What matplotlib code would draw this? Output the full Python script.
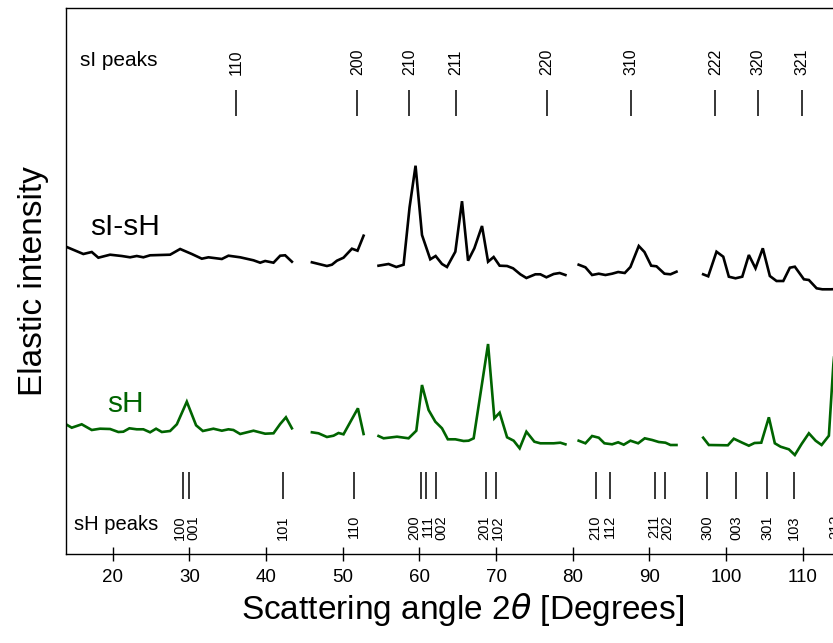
import numpy as np
import matplotlib.pyplot as plt

plt.rcParams['font.family'] = ['Liberation Sans', 'DejaVu Sans']

# --- DATA ---
# sI-sH curve, one list per measured segment (x in degrees, y in arbitrary intensity)
si_x = [
    [13.9, 16.16, 17.26, 18.12, 19.65, 21.17, 22.26, 23.13, 23.99, 24.87, 27.48, 28.79,
     30.31, 31.62, 32.48, 34.23, 35.09, 36.62, 38.36, 39.23, 39.88, 40.97, 41.84, 42.49, 43.37],
    [45.98, 47.94, 48.59, 49.24, 50.10, 51.20, 51.93, 52.72],
    [54.67, 55.98, 56.99, 57.94, 58.72, 59.50, 60.34, 61.42, 62.12, 62.95, 63.60, 64.69,
     65.56, 66.35, 67.17, 68.17, 68.96, 69.69, 70.47, 71.44, 72.22, 73.17, 73.96, 75.13,
     75.78, 76.57, 77.52, 78.30, 79.05],
    [80.78, 81.66, 82.53, 83.40, 84.27, 85.14, 85.93, 86.79, 87.53, 88.62, 89.36, 90.24,
     90.93, 91.97, 92.76, 93.54],
    [97.02, 97.68, 98.76, 99.64, 100.37, 101.24, 102.12, 102.98, 103.85, 104.80, 105.72,
     106.59, 107.47, 108.33, 108.98, 110.16, 110.81, 111.82, 112.56, 113.64, 114.69],
]
si_y = [
    [307.3, 300, 302, 296.3, 299.3, 298, 296.7, 298, 296.7, 298.7, 299.3, 305,
     300, 295.3, 296.7, 295, 298.3, 296.7, 293.7, 291.3, 293, 291.3, 298.3, 298.7, 292.3],
    [291.7, 288, 289.3, 293.3, 296.3, 305.3, 303.3, 318.3],
    [288.3, 290, 287, 289.3, 346.7, 388.3, 319, 294.7, 298, 290, 287, 302.3,
     352.8, 293.3, 305.7, 328, 292.3, 297, 288.3, 288, 285.7, 279.7, 276, 279.7,
     279.7, 276.7, 280, 281, 279],
    [289.3, 286.7, 279, 280.3, 279, 280.3, 282, 281, 287, 308, 302, 288.3,
     287.7, 280.3, 279.7, 282.3],
    [279.7, 277.7, 302.3, 297.3, 277.3, 275.7, 277.3, 299, 285.7, 305.7, 278,
     273, 273, 286.3, 287.3, 274.7, 274, 265.7, 264.7, 264.7, 265],
]

# sH curve
sh_x = [
    [13.9, 14.65, 15.95, 17.26, 18.34, 19.65, 20.73, 21.38, 22.17, 23.13, 23.99, 24.87,
     25.65, 26.40, 27.48, 28.36, 29.66, 30.87, 31.75, 33.13, 34.23, 35.09, 35.74, 36.62,
     38.36, 39.88, 40.97, 41.84, 42.59, 43.37],
    [45.98, 46.84, 47.94, 48.80, 49.45, 50.10, 51.98, 52.72],
    [54.67, 55.33, 57.08, 58.59, 59.60, 60.34, 61.20, 62.08, 62.95, 63.71, 64.69, 65.77,
     66.42, 67.08, 68.96, 69.78, 70.47, 71.44, 72.30, 73.08, 73.96, 75.00, 75.78, 77.52,
     78.39, 79.05],
    [80.78, 81.66, 82.53, 83.40, 84.14, 85.14, 85.93, 86.66, 87.53, 88.54, 89.40, 90.37,
     91.23, 92.10, 92.76, 93.54],
    [97.02, 97.76, 100.24, 101.02, 102.12, 102.98, 103.72, 104.60, 105.59, 106.37, 107.12,
     108.20, 108.98, 109.86, 110.81, 111.69, 112.47, 113.42, 114.0, 114.6],
]
sh_y = [
    [129.7, 126.3, 129.7, 124, 125.3, 125, 122, 122.3, 125.7, 124.7, 124.7, 121.7,
     125.3, 122, 123, 129.7, 152.3, 128.7, 123, 125.3, 123.3, 124.7, 124, 120,
     123.3, 120.3, 120.7, 130, 136.7, 125.7],
    [121.7, 120.7, 117, 118.3, 121, 119.7, 145.7, 120],
    [118, 115.7, 117.3, 115.7, 123.3, 169, 144, 132.3, 125.7, 114.7, 114.7, 113,
     113.3, 115.7, 210, 135.7, 141.3, 116.7, 113.3, 105.7, 122.3, 112.3, 110.7, 110.7,
     111.3, 109.7],
    [113.3, 110.7, 118, 116.3, 110.7, 109.7, 111.7, 109.3, 113.3, 110.7, 115.7, 114,
     112, 111.3, 109, 109],
    [116.3, 109, 108.7, 115.3, 111.3, 108.3, 111, 111.3, 136.7, 110.7, 107.3,
     104.7, 99, 110, 120.7, 113.3, 109, 118.3, 189, 240],
]

# reflection positions
si_peaks = [36.1, 51.9, 58.7, 64.8, 76.6, 87.6, 98.6, 104.2, 109.9]
si_labels = ['110', '200', '210', '211', '220', '310', '222', '320', '321']
sh_peaks = [29.2, 30.0, 42.2, 51.5, 60.25, 60.8, 62.2, 68.7, 70.0, 83.0, 84.9,
            90.8, 92.1, 97.55, 101.3, 105.4, 108.9, 114.2]
sh_labels = ['100', '001', '101', '110', '200', '111', '002', '201', '102', '210', '112',
             '211', '202', '300', '003', '301', '103', '212']

GREEN = '#006400'


def spread(xs, min_sep=1.75):
    # push close labels apart, keeping each cluster centred on its lines
    groups = [[xs[0]]]
    for x in xs[1:]:
        if x - groups[-1][-1] < min_sep:
            groups[-1].append(x)
        else:
            groups.append([x])
    out = []
    for g in groups:
        if len(g) == 1:
            out.append(g[0])
        else:
            c = np.mean(g)
            n = len(g)
            out += [c + (i - (n - 1) / 2) * min_sep for i in range(n)]
    return out


fig = plt.figure(figsize=(8.33, 6.43), dpi=100)
ax = fig.add_axes([66 / 833, 89 / 643, 794 / 833, 546 / 643])

for xs, ys in zip(si_x, si_y):
    ax.plot(xs, ys, color='black', lw=1.9, solid_joinstyle='miter')
for xs, ys in zip(sh_x, sh_y):
    ax.plot(xs, ys, color=GREEN, lw=1.9, solid_joinstyle='miter')

# sI peak markers (top)
ax.vlines(si_peaks, 438, 464, color='black', lw=1.1)
for x, lab in zip(si_peaks, si_labels):
    ax.text(x, 479, lab, rotation=90, ha='center', va='bottom', fontsize=11.5)
ax.text(15.7, 493, 'sI peaks', ha='left', va='center', fontsize=15)

# sH peak markers (bottom)
ax.vlines(sh_peaks, 55, 82, color='black', lw=1.1)
for x, lab in zip(spread(sh_peaks), sh_labels):
    ax.text(x, 39, lab, rotation=90, ha='center', va='top', fontsize=10.5)
ax.text(14.9, 29, 'sH peaks', ha='left', va='center', fontsize=14.5)

ax.text(17.0, 319, 'sI-sH', ha='left', va='baseline', fontsize=21.5)
ax.text(19.2, 142, 'sH', ha='left', va='baseline', fontsize=21.5, color=GREEN)

ax.set_xlim(13.9, 117.48)
ax.set_ylim(0, 546)
ax.set_xticks(range(20, 120, 10))
ax.set_yticks([])
ax.tick_params(axis='x', direction='inout', length=9.5, width=1.0, labelsize=13.5, pad=6)
for s in ax.spines.values():
    s.set_linewidth(1.0)
ax.spines['right'].set_visible(False)

ax.set_xlabel('Scattering angle 2$\\theta$ [Degrees]', fontsize=24, labelpad=4)
ax.set_ylabel('Elastic intensity', fontsize=24, labelpad=12)

fig.savefig('out.png', dpi=100)
